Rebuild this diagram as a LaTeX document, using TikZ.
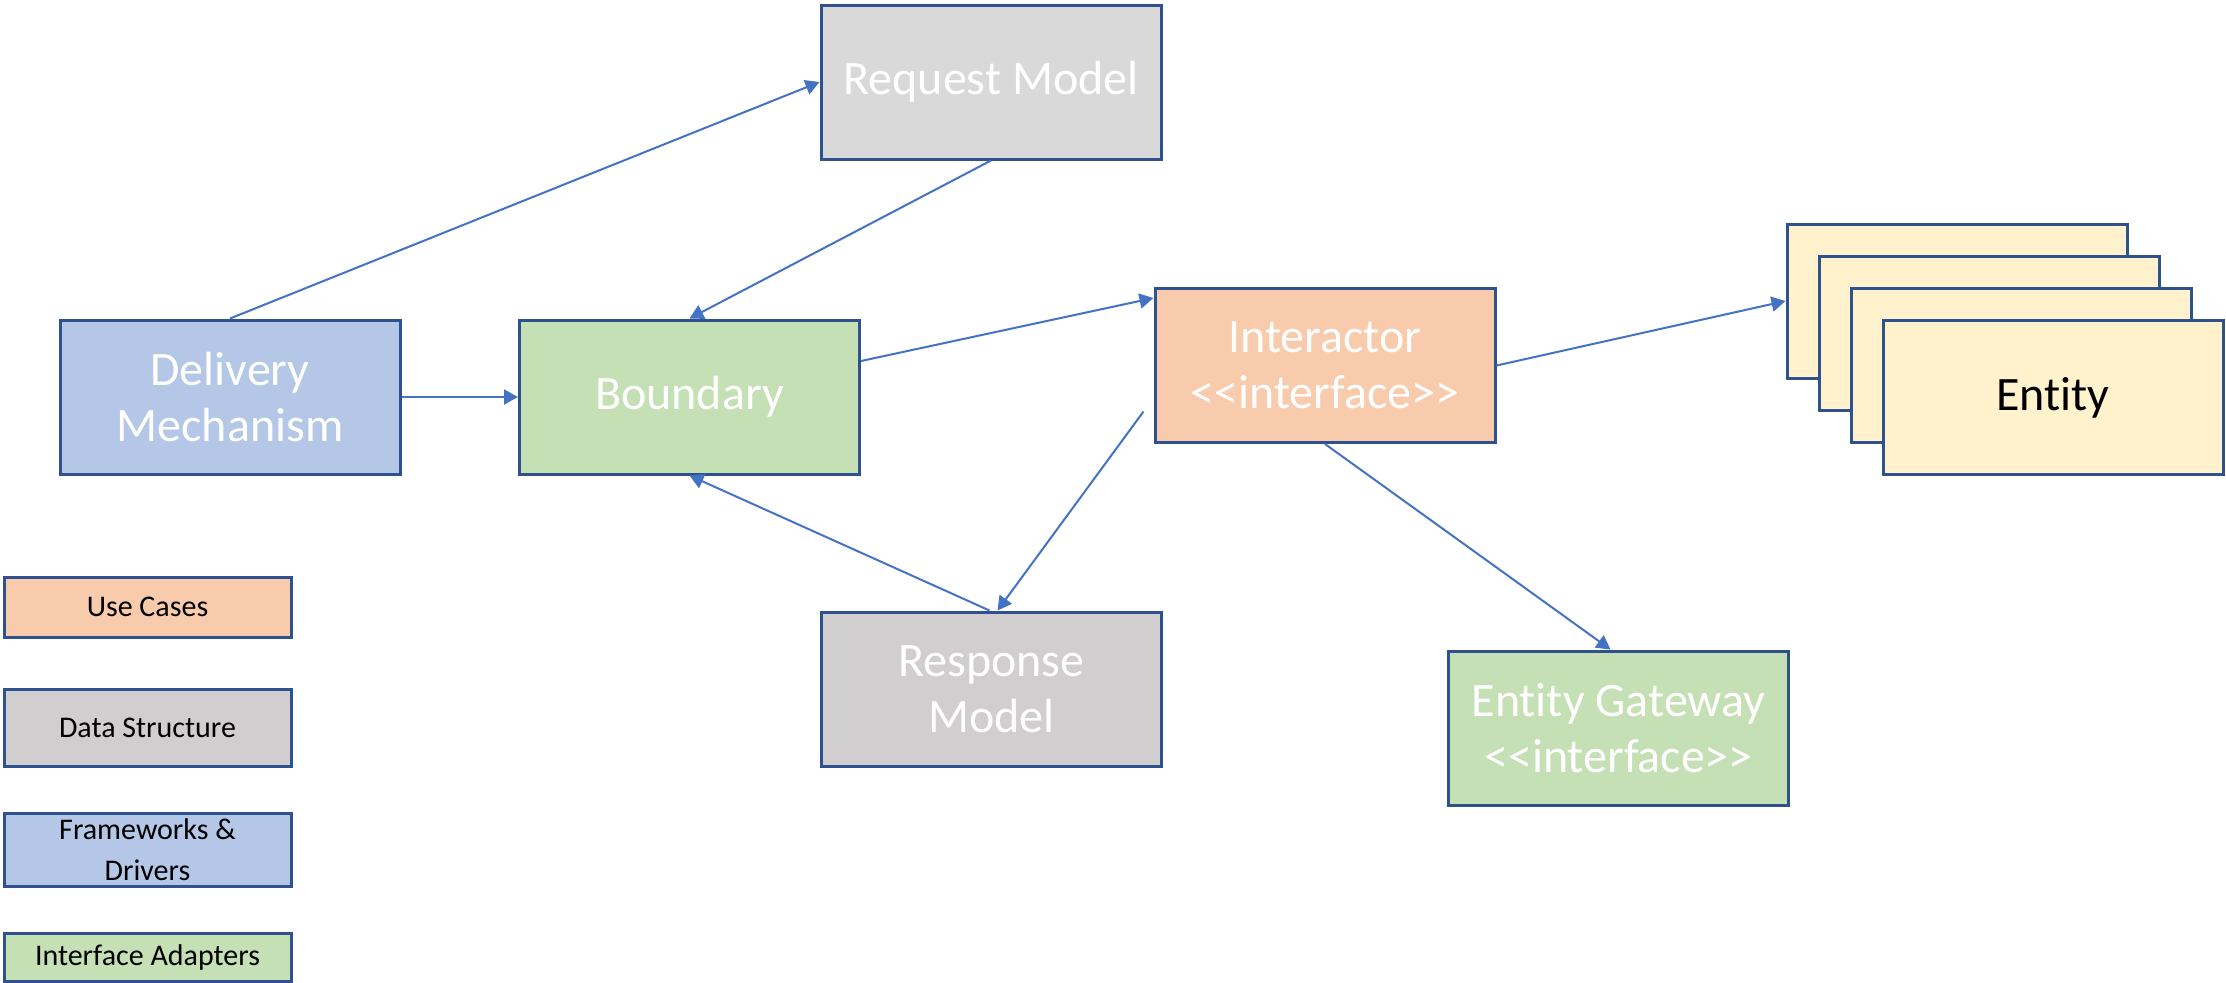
\documentclass[tikz,border=0pt]{standalone}
\usepackage{fontspec}
\setmainfont{Carlito}[Ligatures={NoCommon}]
\usepackage{xcolor}
\usepackage{tikz}
\usetikzlibrary{arrows.meta, positioning}

\definecolor{edgeblue}{HTML}{2F528F}
\definecolor{linkblue}{HTML}{4472C4}
\definecolor{fwblue}{HTML}{B4C7E7}
\definecolor{iagreen}{HTML}{C5E0B4}
\definecolor{reqgrey}{HTML}{D9D9D9}
\definecolor{respgrey}{HTML}{D0CECE}
\definecolor{ucorange}{HTML}{F8CBAD}
\definecolor{entyellow}{HTML}{FFF2CC}

\newcommand{\entword}{Ent\kern0pt ity}

\tikzset{
  box/.style={draw=edgeblue, line width=1.5pt, minimum width=170pt, minimum height=77pt,
    align=center, text=white, inner sep=0pt, font=\fontsize{24}{28}\selectfont},
  key/.style={draw=edgeblue, line width=1.5pt, minimum width=143.5pt, align=center,
    inner sep=0pt, font=\fontsize{15}{20.5}\selectfont},
  link/.style={draw=linkblue, line width=1pt, -{Triangle[length=7pt,width=7.5pt]}}
}

\begin{document}
\begin{tikzpicture}[x=0.5pt,y=-0.5pt]
\useasboundingbox (0,0) rectangle (2226,982);
\node[box, fill=reqgrey] (rm) at (991,82) {Request Model};
\node[box, fill=fwblue] (dm) at (230,397) {Delivery\\Mechanism};
\node[box, fill=iagreen] (bd) at (689.5,397) {Boundary};
\node[box, fill=ucorange] (ia) at (1325,365.5) {Interactor\\<{}<interface>{}>};
\node[box, fill=respgrey] (rsp) at (991.5,689) {Response\\Model};
\node[box, fill=iagreen] (gw) at (1618.5,728) {\entword{} Gateway\\<{}<interface>{}>};
% stacked entities
\node[box, fill=entyellow] (e1) at (1957,301) {};
\node[box, fill=entyellow] (e2) at (1989,333) {};
\node[box, fill=entyellow] (e3) at (2021.5,365.5) {};
\node[box, fill=entyellow, text=black] (e4) at (2053,397.5) {\entword};
% legend
\node[key, fill=ucorange, minimum height=30pt] (uc) at (147.5,607) {Use Cases};
\node[key, fill=respgrey, minimum height=38.5pt] (ds) at (147.5,727.5) {Data Structure};
\node[key, fill=fwblue, minimum height=36.5pt] (fd) at (147.5,849.5) {Frameworks \&\\Drivers};
\node[key, fill=iagreen, minimum height=24pt] (ad) at (147.5,957) {Interface Adapters};
% connectors
\draw[link] (dm.north) -- (rm.west);
\draw[link] (rm.south) -- (bd.north);
\draw[link] (dm.east) -- (bd.west);
\draw[link] ([yshift=18pt]bd.east) -- ([yshift=-5.5pt]ia.north west);
\draw[link] (ia.east) -- (e1.west);
\draw[link] ([xshift=-5pt,yshift=-23pt]ia.west) -- ([xshift=3pt]rsp.north);
\draw[link] ([xshift=-1pt]rsp.north) -- (bd.south);
\draw[link] (ia.south) -- ([xshift=-4pt]gw.north);
\end{tikzpicture}
\end{document}
